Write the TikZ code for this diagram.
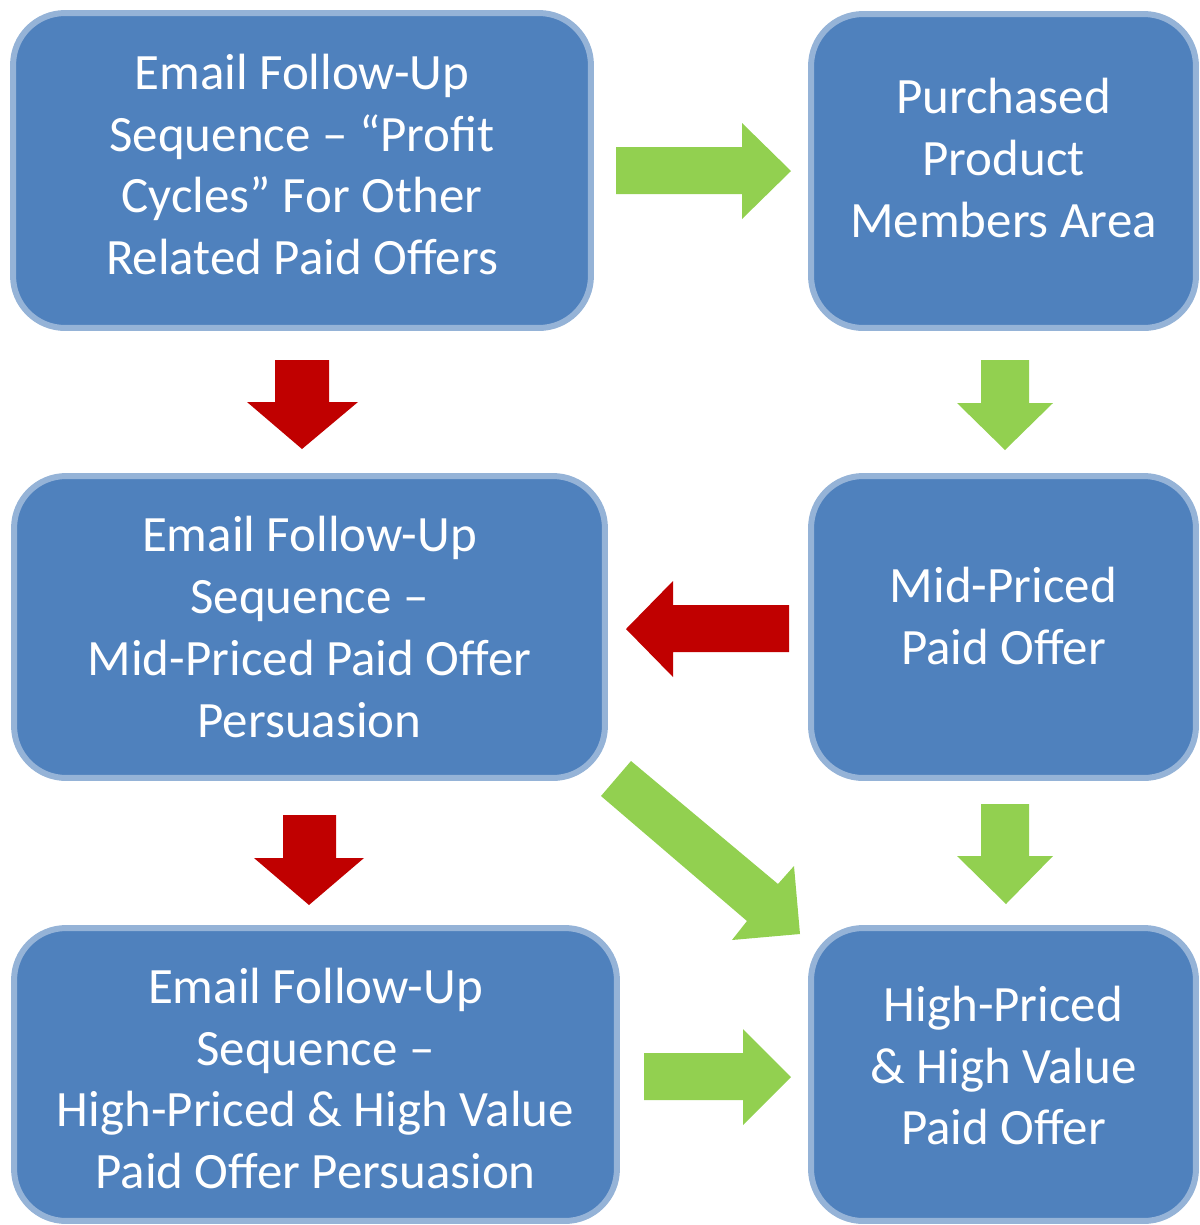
\documentclass[tikz,border=0pt]{standalone}
\usepackage{fontspec}
\setmainfont{Carlito}
\definecolor{boxfill}{HTML}{4F81BD}
\definecolor{boxline}{HTML}{95B3D7}
\definecolor{arrred}{HTML}{C00000}
\definecolor{arrgreen}{HTML}{92D050}
\tikzset{
  stagebox/.style={rectangle, rounded corners=1.04cm, fill=boxfill, draw=boxline,
    line width=0.12cm, inner sep=0pt},
  stagetext/.style={inner sep=0pt, align=center, text=white,
    font=\fontsize{29}{35.2}\selectfont},
  redarrow/.style={fill=arrred, draw=none},
  greenarrow/.style={fill=arrgreen, draw=none}
}
\begin{document}
\begin{tikzpicture}[x=0.02cm, y=-0.02cm]
\useasboundingbox (0,0) rectangle (1200,1225);
% boxes
\node[stagebox, minimum width=11.56cm, minimum height=6.3cm] (b1) at (302,170.5) {};
\node[stagebox, minimum width=7.7cm, minimum height=6.28cm] (b2) at (1003.5,171) {};
\node[stagebox, minimum width=11.82cm, minimum height=6.04cm] (b3) at (309.5,627) {};
\node[stagebox, minimum width=7.7cm, minimum height=6.04cm] (b4) at (1003.5,627) {};
\node[stagebox, minimum width=12.06cm, minimum height=5.86cm] (b5) at (315.5,1074.5) {};
\node[stagebox, minimum width=7.7cm, minimum height=5.86cm] (b6) at (1003.5,1074.5) {};
% texts
\node[stagetext] (t1) at ([yshift=0.12cm]b1.center)
  {Email Follow-Up\\Sequence – “Profit\\Cycles” For Other\\Related Paid Offers};
\node[stagetext] (t2) at ([yshift=0.26cm]b2.center)
  {Purchased\\Product\\Members Area};
\node[stagetext] (t3) at (b3.center)
  {Email Follow-Up\\Sequence –\\Mid-Priced Paid Offer\\Persuasion};
\node[stagetext] (t4) at ([yshift=0.22cm]b4.center)
  {Mid-Priced\\Paid Offer};
\node[stagetext] (t5) at ([yshift=-0.08cm]b5.center)
  {Email Follow-Up\\Sequence –\\High-Priced \& High Value\\Paid Offer Persuasion};
\node[stagetext] (t6) at ([yshift=0.18cm]b6.center)
  {High-Priced\\\& High Value\\Paid Offer};
% block arrows
\fill[greenarrow] (616,147) -- (742,147) -- (742,123) -- (791,171) -- (742,219) -- (742,194) -- (616,194) -- cycle;
\fill[redarrow] (275,360) -- (329,360) -- (329,402) -- (358,402) -- (302,449) -- (247,402) -- (275,402) -- cycle;
\fill[greenarrow] (981,360) -- (1029,360) -- (1029,403) -- (1053,403) -- (1005,450) -- (957,403) -- (981,403) -- cycle;
\fill[redarrow] (789,605) -- (673,605) -- (673,581) -- (626,629) -- (673,677) -- (673,652) -- (789,652) -- cycle;
\fill[redarrow] (283,815) -- (336,815) -- (336,858) -- (364,858) -- (309,905) -- (254,858) -- (283,858) -- cycle;
\fill[greenarrow] (981,804) -- (1029,804) -- (1029,856) -- (1053,856) -- (1006,904) -- (957,856) -- (981,856) -- cycle;
\fill[greenarrow] (601,796) -- (631,761) -- (778,884) -- (794,866) -- (800,934) -- (732,940) -- (747,921) -- cycle;
\fill[greenarrow] (644,1053) -- (743,1053) -- (743,1029) -- (791,1077) -- (743,1125) -- (743,1100) -- (644,1100) -- cycle;
\end{tikzpicture}
\end{document}
